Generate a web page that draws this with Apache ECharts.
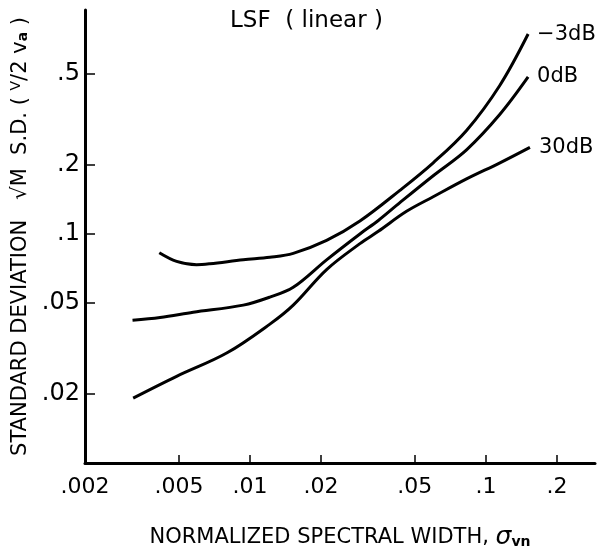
<!DOCTYPE html>
<html>
<head>
<meta charset="utf-8">
<script src="https://cdn.jsdelivr.net/npm/echarts@6/dist/echarts.min.js"></script>
<style>html,body{margin:0;padding:0;background:#fff}#c{width:606px;height:555px}</style>
</head>
<body>
<div id="c"></div>
<script>
const xTicks = [0.002, 0.005, 0.01, 0.02, 0.05, 0.1, 0.2];
const xTickLabels = ['.002', '.005', '.01', '.02', '.05', '.1', '.2'];
const yTicks = [0.02, 0.05, 0.1, 0.2, 0.5];
const yTickLabels = ['.02', '.05', '.1', '.2', '.5'];
const seriesNames = ['−3dB', '0dB', '30dB'];

const xMinus3 = [0.00413, 0.00489, 0.00594, 0.00677, 0.00937, 0.01215, 0.01526, 0.02113, 0.02925, 0.0432, 0.0598, 0.0828, 0.1147, 0.151];
const yMinus3 = [0.0828, 0.0759, 0.0734, 0.0741, 0.0771, 0.0791, 0.0823, 0.0937, 0.1139, 0.155, 0.2045, 0.283, 0.446, 0.746];

const x0 = [0.00318, 0.00416, 0.00575, 0.00937, 0.01215, 0.01526, 0.02113, 0.02925, 0.035, 0.0432, 0.0598, 0.0828, 0.1147, 0.151];
const y0 = [0.042, 0.0432, 0.0455, 0.0489, 0.053, 0.0585, 0.0771, 0.1, 0.1145, 0.137, 0.1796, 0.233, 0.333, 0.4845];

const x30 = [0.0032, 0.00489, 0.00797, 0.01215, 0.01526, 0.02113, 0.02925, 0.035, 0.0461, 0.0598, 0.0828, 0.1147, 0.1537];
const y30 = [0.0192, 0.0239, 0.0302, 0.0404, 0.0489, 0.0699, 0.0907, 0.1027, 0.1255, 0.1453, 0.1739, 0.2045, 0.2389];

const FONT = 'DejaVu Sans';
const pair = (xs, ys) => xs.map((v, i) => [v, ys[i]]);
const fmtX = v => { const i = xTicks.findIndex(t => Math.abs(t - v) / t < 1e-6); return i >= 0 ? xTickLabels[i] : ''; };
const fmtY = v => { const i = yTicks.findIndex(t => Math.abs(t - v) / t < 1e-6); return i >= 0 ? yTickLabels[i] : ''; };

const chart = echarts.init(document.getElementById('c'), null, { renderer: 'canvas' });
const mkSeries = (name, data) => ({
  name, type: 'line', data, smooth: 0.35, symbol: 'none',
  lineStyle: { color: '#000', width: 3 },
  endLabel: { show: true, formatter: name, color: '#000', fontFamily: FONT, fontSize: 21, distance: 9 }
});
chart.setOption({
  animation: false,
  backgroundColor: '#fff',
  title: {
    text: 'LSF  ( linear )', left: 225, top: 5,
    textStyle: { fontFamily: FONT, fontSize: 23, fontWeight: 'normal', color: '#000' }
  },
  grid: { left: 85, right: 11, top: 10, bottom: 80, containLabel: false },
  xAxis: {
    type: 'log', min: 0.002, max: 0.29, logBase: 10,
    axisLine: { lineStyle: { color: '#000', width: 3 } },
    axisTick: { show: true, inside: true, length: 8, lineStyle: { color: '#000', width: 1.5 }, customValues: xTicks },
    axisLabel: { customValues: xTicks, formatter: fmtX, color: '#000', fontFamily: FONT, fontSize: 22, margin: 13 },
    splitLine: { show: false }, minorTick: { show: false },
    name: 'NORMALIZED SPECTRAL WIDTH, {s|σ}{sub|vn}',
    nameLocation: 'middle', nameGap: 62,
    nameTextStyle: {
      fontFamily: FONT, fontSize: 21, color: '#000',
      rich: {
        s: { fontFamily: FONT, fontSize: 25, color: '#000', fontStyle: 'italic' },
        sub: { fontFamily: FONT, fontSize: 14, color: '#000', fontWeight: 'bold', padding: [10, 0, 0, 0] }
      }
    }
  },
  yAxis: {
    type: 'log', min: 0.01, max: 0.95, logBase: 10,
    axisLine: { lineStyle: { color: '#000', width: 3 } },
    axisTick: { show: true, inside: true, length: 10, lineStyle: { color: '#000', width: 1.5 }, customValues: yTicks },
    axisLabel: { customValues: yTicks, formatter: fmtY, color: '#000', fontFamily: FONT, fontSize: 24, margin: 5 },
    splitLine: { show: false }, minorTick: { show: false },
    name: 'STANDARD DEVIATION   √M  S.D. ( {sup|V}/2 v{sub|a} )',
    nameLocation: 'middle', nameGap: 53, nameRotate: 90,
    nameTextStyle: {
      fontFamily: FONT, fontSize: 21, color: '#000',
      rich: {
        sup: { fontFamily: FONT, fontSize: 14, color: '#000', padding: [0, 0, 8, 0] },
        sub: { fontFamily: FONT, fontSize: 14, color: '#000', fontWeight: 'bold', padding: [6, 0, 0, 0] }
      }
    }
  },
  series: [
    mkSeries(seriesNames[0], pair(xMinus3, yMinus3)),
    mkSeries(seriesNames[1], pair(x0, y0)),
    mkSeries(seriesNames[2], pair(x30, y30))
  ]
});
</script>
</body>
</html>
